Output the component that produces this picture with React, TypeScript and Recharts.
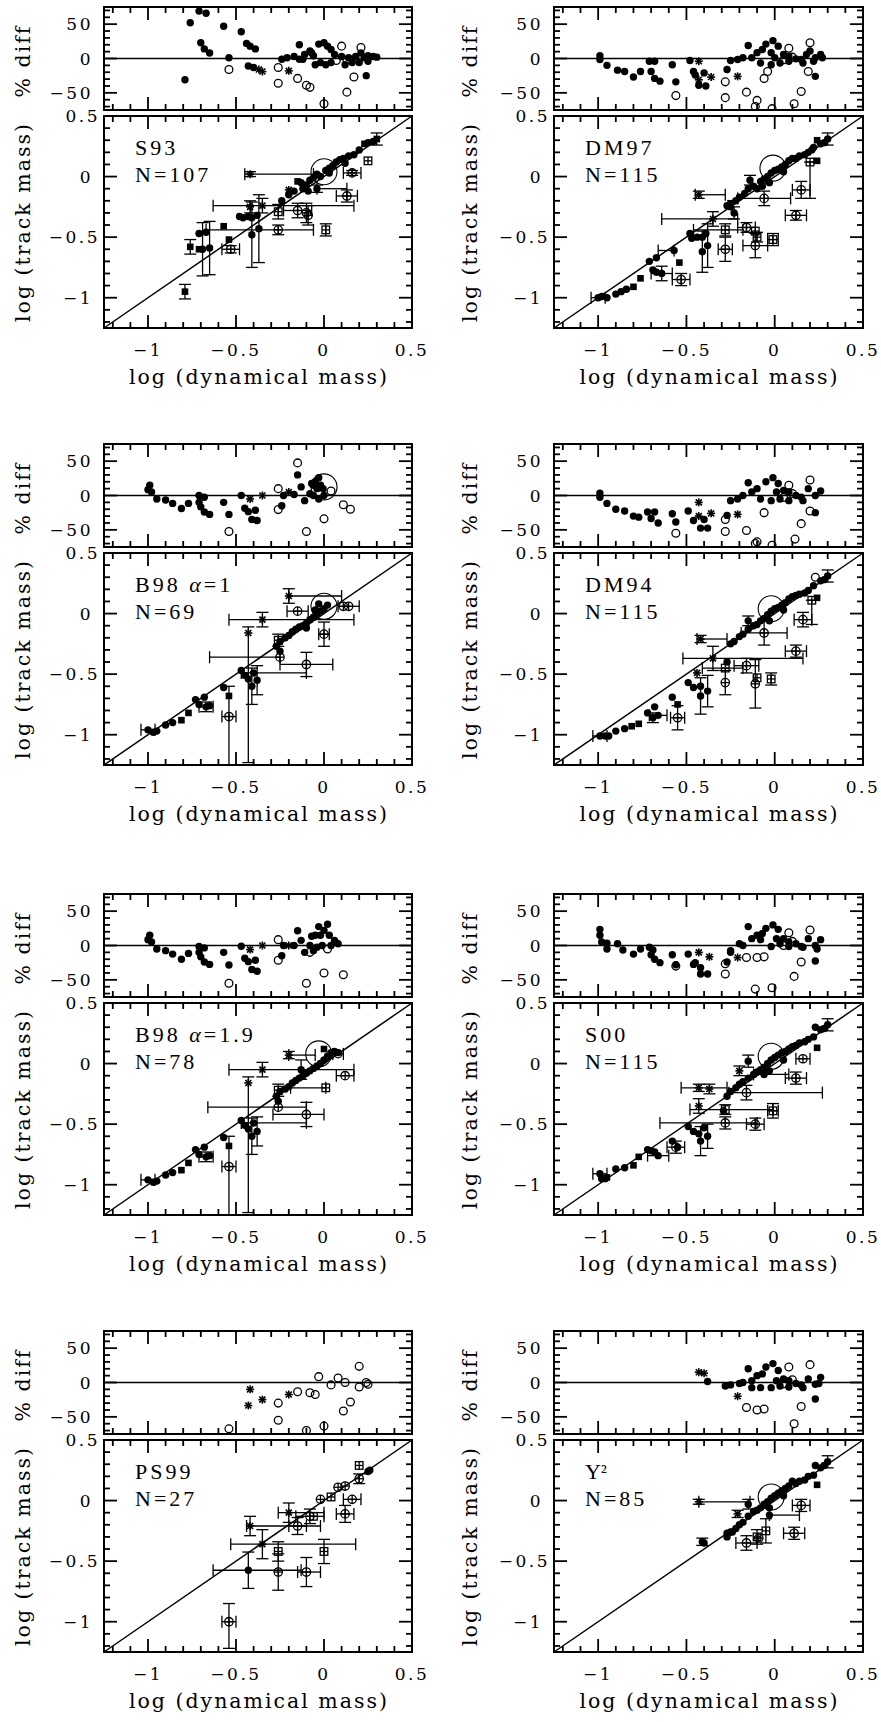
import React from 'react';
import { ScatterChart, Scatter, XAxis, YAxis, ReferenceLine, ReferenceArea, ErrorBar } from 'recharts';

type Err = number | [number, number];
type Pt = [number, number, string, Err?, Err?];

// marker kinds: f filled circle, o open circle, s filled square, a asterisk,
// p open circle with cross, q open square with cross, b big open circle

const s93Res: Pt[] = [
  [-0.79, -31, 'f'], [-0.76, 52, 'f'], [-0.71, 69, 'f'], [-0.67, 66, 'f'], [-0.7, 23, 'f'], [-0.68, 14, 'f'],
  [-0.65, 8, 'f'], [-0.57, 47, 'f'], [-0.54, 1, 'f'], [-0.54, -16, 'o'], [-0.47, 39, 'f'], [-0.44, 22, 'f'],
  [-0.42, 18, 'f'], [-0.39, 14, 'f'], [-0.43, -11, 'f'], [-0.4, -13, 'f'], [-0.37, -16, 'a'], [-0.35, -19, 'a'],
  [-0.26, -13, 'o'], [-0.26, -36, 'o'], [-0.2, -18, 'a'], [-0.15, -29, 'o'], [-0.1, -39, 'o'], [-0.08, -42, 'o'],
  [0.0, -66, 'o'], [-0.14, 20, 'f'], [0.1, 18, 'o'], [0.13, -49, 'o'], [0.17, -27, 'o'], [0.21, 16, 'o'],
  [0.24, -25, 'f'], [-0.24, -1, 'f'], [-0.21, 1, 'f'], [-0.17, 3, 'f'], [-0.14, -1, 'f'], [-0.11, 6, 'f'],
  [-0.08, 11, 'f'], [-0.06, 4, 'f'], [-0.03, 21, 'f'], [0.0, 23, 'f'], [0.02, 18, 'f'], [0.04, 13, 'f'],
  [0.06, 6, 'f'], [0.1, 3, 'f'], [0.14, 1, 'f'], [0.16, -1, 'f'], [0.18, 3, 'f'], [0.21, 8, 'f'], [0.23, 1, 'f'],
  [0.25, 4, 'f'], [0.28, 3, 'f'], [-0.05, -9, 'f'], [-0.02, -6, 'f'], [0.01, -9, 'f'], [0.04, -6, 'f'],
  [0.12, -9, 'f'], [0.16, -6, 'f'], [0.2, -6, 'f'], [0.25, -4, 'f'], [-0.07, 8, 'f'], [-0.12, -1, 'f'],
  [0.07, -3, 'o'], [0.13, -2, 'o'], [0.3, 2, 'f'],
];

const s93Main: Pt[] = [
  [-0.79, -0.95, 's', 0, 0.06], [-0.76, -0.58, 's', 0, 0.06], [-0.71, -0.6, 's'], [-0.69, -0.6, 'f', 0, 0.22],
  [-0.65, -0.59, 'f', 0, 0.22], [-0.71, -0.47, 'f'], [-0.67, -0.46, 'f'], [-0.26, -0.44, 'p', [0.41, 0.2], 0.04],
  [-0.57, -0.41, 's'], [-0.54, -0.52, 's'], [-0.53, -0.6, 'p', 0.05, 0.03], [-0.48, -0.33, 'f'], [-0.46, -0.34, 'f'],
  [-0.43, -0.33, 'f'], [-0.41, -0.34, 'f'], [-0.38, -0.32, 'f'], [-0.42, -0.25, 'a', 0, 0.05],
  [-0.35, -0.24, 'a', [0.28, 0.52], 0.06], [-0.41, -0.48, 'f', 0, 0.27], [-0.37, -0.43, 'f', 0, 0.28],
  [-0.2, -0.11, 'a'], [-0.42, 0.02, 'a', [0.03, 0.36], 0.02], [-0.26, -0.29, 'q', 0, 0.06],
  [-0.15, -0.28, 'p', 0.08, 0.06], [-0.1, -0.3, 'p', 0, 0.08], [-0.09, -0.32, 'p', 0, 0.08],
  [0.01, -0.44, 'q', 0, 0.05], [0.13, -0.16, 'p', 0.06, 0.05], [-0.04, -0.1, 'f', [0, 0.17], 0.03],
  [0.16, 0.03, 'p', 0.05, 0.02], [0.25, 0.13, 'q'], [0.0, 0.04, 'b'], [-0.15, -0.04, 's'],
  [-0.24, -0.2, 'f'], [-0.2, -0.15, 'f'], [-0.17, -0.12, 'f'], [-0.13, -0.05, 'f'], [-0.1, -0.07, 'f'],
  [-0.08, -0.03, 'f'], [-0.06, -0.01, 'f'], [-0.04, 0.02, 'f'], [-0.02, 0.0, 'f'], [0.01, 0.05, 'f'],
  [0.03, 0.07, 'f'], [0.05, 0.09, 'f'], [0.07, 0.12, 'f'], [0.09, 0.14, 'f'], [0.11, 0.15, 'f'],
  [0.14, 0.17, 'f'], [0.17, 0.18, 'f'], [0.2, 0.22, 'f'], [0.23, 0.27, 's'], [0.25, 0.28, 'f'],
  [0.28, 0.29, 'f'], [0.3, 0.31, 's', 0, 0.05], [0.12, 0.11, 'f'], [0.03, 0.03, 'f'], [-0.12, -0.1, 'f'],
  [-0.09, -0.12, 'f'],
];

const dm97Res: Pt[] = [
  [-0.99, 4, 'f'], [-0.99, -1.5, 'f'], [-0.95, -10, 'f'], [-0.89, -17, 'f'], [-0.85, -19, 'f'], [-0.8, -27, 'f'],
  [-0.76, -19, 'f'], [-0.71, -4, 'f'], [-0.68, -4, 'f'], [-0.7, -19, 'f'], [-0.68, -29, 'f'], [-0.65, -33, 'f'],
  [-0.58, -9, 'f'], [-0.56, -34, 'f'], [-0.56, -54, 'o'], [-0.48, -3, 'f'], [-0.43, -4, 'a'], [-0.46, -19, 'f'],
  [-0.45, -24, 'f'], [-0.43, -31, 'a'], [-0.4, -21, 'f'], [-0.36, -27, 'a'], [-0.43, -39, 'f'], [-0.39, -40, 'f'],
  [-0.28, -34, 'o'], [-0.27, -16, 'f'], [-0.28, -57, 'o'], [-0.21, -26, 'a'], [-0.16, -49, 'o'], [-0.11, -70, 'o'],
  [-0.1, -61, 'o'], [-0.015, -73, 'o'], [-0.04, -19, 'o'], [-0.06, -29, 'o'], [0.08, 15, 'o'], [0.11, -66, 'o'],
  [0.15, -48, 'o'], [0.19, -19, 'o'], [0.2, 23, 'o'], [0.23, -26, 'f'], [-0.15, 19, 'f'], [-0.25, -3, 'f'],
  [-0.21, -1.5, 'f'], [-0.18, 1, 'f'], [-0.13, 1, 'f'], [-0.1, 8.5, 'f'], [-0.07, 13, 'f'], [-0.05, 21, 'f'],
  [-0.01, 26, 'f'], [0.02, 18, 'f'], [0.05, 6, 'f'], [0.08, 3.5, 'f'], [0.12, -0.5, 'f'], [0.15, -1.5, 'f'],
  [0.18, 6, 'f'], [0.2, 11, 'f'], [0.23, 1, 'f'], [0.26, 6, 'f'], [0.27, 1, 'f'], [-0.08, -6.5, 'f'],
  [-0.02, -9, 'f'], [0.03, -6.5, 'f'], [0.08, -4, 'f'], [0.16, -6.5, 'f'], [0.22, -4, 'f'], [-0.02, 8.5, 'f'],
  [0.0, 1, 'f'], [0.1, 2, 'o'], [0.05, -2, 'o'],
];

const dm97Main: Pt[] = [
  [-1.0, -1.0, 'f', 0.04, 0], [-0.98, -0.99, 'f'], [-0.95, -1.0, 'f'], [-0.9, -0.97, 'f'], [-0.87, -0.95, 'f'],
  [-0.84, -0.93, 'f'], [-0.8, -0.91, 's'], [-0.76, -0.84, 's'], [-0.71, -0.7, 'f'], [-0.67, -0.67, 'f'],
  [-0.67, -0.79, 'f'], [-0.64, -0.8, 'f', 0.06, 0.06], [-0.69, -0.77, 'f'], [-0.57, -0.61, 'f', [0.09, 0], 0],
  [-0.54, -0.71, 's'], [-0.53, -0.85, 'p', 0.05, 0.05], [-0.48, -0.47, 'f'], [-0.47, -0.51, 'f'],
  [-0.44, -0.5, 'f'], [-0.41, -0.5, 'f'], [-0.39, -0.47, 'f'], [-0.41, -0.62, 'f', 0, 0.17],
  [-0.38, -0.57, 'f', 0, 0.18], [-0.28, -0.44, 'q', [0.18, 0.1], 0.05], [-0.35, -0.35, 'a', [0.29, 0.14], 0.06],
  [-0.28, -0.6, 'p', 0.04, 0.1], [-0.16, -0.42, 'p', 0.05, 0.04], [-0.11, -0.45, 'q'], [-0.1, -0.5, 'q', 0, 0.04],
  [-0.11, -0.57, 'p', 0.07, 0.1], [-0.01, -0.52, 'q', 0.03, 0.05], [-0.43, -0.15, 'a', [0.02, 0.15], 0.03],
  [-0.27, -0.24, 'f'], [-0.25, -0.22, 's'], [-0.23, -0.3, 'f', 0, 0.05], [-0.06, -0.18, 'p', 0.15, 0.06],
  [0.12, -0.32, 'p', 0.06, 0.04], [0.15, -0.11, 'p', 0.05, 0.07], [0.2, 0.12, 'q', 0, [0.3, 0]],
  [0.24, 0.13, 's'], [-0.14, -0.03, 'f', 0, 0.04], [-0.01, 0.07, 'b'], [-0.25, -0.25, 'f'], [-0.22, -0.2, 'f'],
  [-0.2, -0.17, 'f'], [-0.17, -0.14, 'f'], [-0.15, -0.1, 'f'], [-0.12, -0.08, 'f'], [-0.1, -0.1, 'f'],
  [-0.08, -0.04, 'f'], [-0.06, -0.02, 'f'], [-0.04, 0.0, 'f'], [-0.02, 0.03, 'f'], [0.0, 0.05, 'f'],
  [0.02, 0.06, 'f'], [0.04, 0.08, 'f'], [0.06, 0.1, 'f'], [0.08, 0.13, 'f'], [0.1, 0.15, 'f'], [0.12, 0.15, 'f'],
  [0.14, 0.17, 'f'], [0.17, 0.18, 'f'], [0.19, 0.2, 'f'], [0.22, 0.24, 'f'], [0.24, 0.3, 's'], [0.26, 0.27, 'f'],
  [0.28, 0.28, 'f'], [0.3, 0.31, 'f', 0, 0.05], [0.21, 0.22, 'f'], [0.05, 0.04, 'f'], [-0.03, -0.05, 'f'],
  [-0.07, -0.08, 'f'],
];

const b98aRes: Pt[] = [
  [-0.99, 15, 'f'], [-1.0, 8.5, 'f'], [-0.98, 5, 'f'], [-0.95, -5, 'f'], [-0.9, -6.5, 'f'], [-0.86, -11.5, 'f'],
  [-0.81, -19, 'f'], [-0.77, -11.5, 'f'], [-0.71, 0, 'f'], [-0.71, -10, 'f'], [-0.68, -2.5, 'f'], [-0.7, -16.5, 'f'],
  [-0.68, -24, 'f'], [-0.65, -27.5, 'f'], [-0.57, -10, 'f'], [-0.54, -27.5, 'f'], [-0.54, -52.5, 'o'],
  [-0.47, 0, 'f'], [-0.42, -5, 'a'], [-0.35, 0, 'a'], [-0.45, -18.5, 'f'], [-0.43, -23.5, 'f'], [-0.39, -21.5, 'f'],
  [-0.41, -35, 'f'], [-0.38, -36.5, 'f'], [-0.26, 10, 'o'], [-0.26, -20.5, 'o'], [-0.24, -15, 'f'], [-0.23, 0, 'f'],
  [-0.2, 5, 'a'], [-0.17, 1.5, 'f'], [-0.15, 30, 'f'], [-0.15, 47.5, 'o'], [-0.13, 12.5, 'f'], [-0.11, -7.5, 'f'],
  [-0.1, -52.5, 'o'], [-0.08, 2.5, 'f'], [-0.07, 17.5, 'f'], [-0.05, 20, 'f'], [-0.03, 26, 'f'], [-0.02, 15, 'f'],
  [-0.005, 10, 'f'], [0, 0, 'f'], [0.04, 6.5, 'o'], [0.0, -34, 'o'], [0.11, -13.5, 'o'], [0.15, -20, 'o'],
  [0.0, 12.5, 'b'], [-0.04, 10, 'f'], [-0.06, 0, 'f'], [-0.03, -5, 'f'], [-0.06, 15, 'f'],
];

const b98aMain: Pt[] = [
  [-1.0, -0.96, 'f', 0.04, 0], [-0.97, -0.98, 'f'], [-0.95, -0.97, 'f'], [-0.9, -0.92, 'f'], [-0.86, -0.9, 'f'],
  [-0.81, -0.88, 's'], [-0.77, -0.82, 's'], [-0.73, -0.71, 'f'], [-0.71, -0.75, 'f'], [-0.68, -0.69, 'f'],
  [-0.67, -0.77, 'f', 0.04, 0.04], [-0.65, -0.76, 'f'], [-0.57, -0.61, 'f'], [-0.54, -0.68, 's'],
  [-0.54, -0.85, 'p', 0.04, [0.4, 0.25]], [-0.47, -0.47, 'f'], [-0.45, -0.51, 'f'], [-0.43, -0.54, 'f'],
  [-0.41, -0.6, 'f', 0, 0.15], [-0.38, -0.55, 'f', 0, 0.12], [-0.4, -0.49, 'f', [0.07, 0.3], 0],
  [-0.43, -0.16, 'a', 0, [1.07, 0.05]], [-0.35, -0.05, 'a', [0.19, 0.52], 0.06], [-0.2, 0.145, 'a', [0, 0.3], 0.06],
  [-0.15, 0.02, 'p', 0.06, 0], [-0.26, -0.22, 'q', 0, 0.05], [-0.25, -0.36, 'p', [0.4, 0], 0],
  [-0.1, -0.42, 'p', 0.15, 0.1], [0.0, -0.17, 'p', 0.03, 0.1], [0.11, 0.06, 'p'], [0.14, 0.06, 'p', 0.06, 0],
  [-0.03, 0.08, 'f'], [0.0, 0.06, 'b'], [-0.27, -0.27, 'f'], [-0.25, -0.23, 'f'], [-0.22, -0.2, 'f'],
  [-0.2, -0.18, 'f'], [-0.18, -0.15, 'f'], [-0.16, -0.13, 'f'], [-0.14, -0.11, 'f'], [-0.12, -0.1, 'f'],
  [-0.1, -0.08, 'f'], [-0.08, -0.05, 'f'], [-0.06, -0.03, 'f'], [-0.04, 0.0, 'f'], [-0.02, 0.02, 'f'],
  [0.0, 0.04, 'f'], [0.02, 0.07, 'f'], [-0.05, 0.03, 'f'], [-0.1, -0.12, 'f'], [-0.25, -0.31, 'f'],
];

const dm94Res: Pt[] = [
  [-0.99, 3.5, 'f'], [-0.99, -2.5, 'f'], [-0.95, -11.5, 'f'], [-0.9, -20, 'f'], [-0.85, -22.5, 'f'], [-0.8, -30, 'f'],
  [-0.77, -31.5, 'f'], [-0.72, -24, 'f'], [-0.68, -24, 'f'], [-0.7, -33.5, 'f'], [-0.66, -40, 'f'],
  [-0.58, -26.5, 'f'], [-0.56, -38.5, 'f'], [-0.56, -55, 'o'], [-0.49, -22.5, 'f'], [-0.43, -10, 'a'],
  [-0.46, -36.5, 'f'], [-0.43, -30, 'a'], [-0.4, -35, 'f'], [-0.36, -26, 'a'], [-0.42, -47.5, 'f'],
  [-0.38, -47.5, 'f'], [-0.28, -35, 'o'], [-0.28, -52.5, 'o'], [-0.27, -29, 'f'], [-0.21, -27.5, 'a'],
  [-0.16, -51, 'o'], [-0.11, -70, 'o'], [-0.1, -67.5, 'o'], [-0.015, -72.5, 'o'], [-0.06, -25, 'o'],
  [0.08, 15, 'o'], [0.115, -63.5, 'o'], [0.15, -41, 'o'], [0.2, -22.5, 'o'], [0.2, 22.5, 'o'], [0.23, -25, 'f'],
  [-0.15, 18.5, 'f'], [-0.25, -7.5, 'f'], [-0.21, -5, 'f'], [-0.18, 0, 'f'], [-0.13, 5, 'f'], [-0.1, 10, 'f'],
  [-0.05, 20, 'f'], [-0.01, 26, 'f'], [0.02, 17.5, 'f'], [0.05, 7.5, 'f'], [0.08, 5, 'f'], [0.12, 0, 'f'],
  [0.15, -2.5, 'f'], [0.19, 10, 'f'], [0.23, 0, 'f'], [0.26, 6.5, 'f'], [-0.02, -7.5, 'f'], [0.03, -5, 'f'],
  [0.08, -7.5, 'f'], [0.16, -7.5, 'f'], [-0.08, -5, 'f'], [0.01, 5, 'f'], [0.1, 3, 'o'], [0.05, -3, 'o'],
];

const dm94Main: Pt[] = [
  [-0.99, -1.01, 'f', 0.04, 0], [-0.96, -1.01, 'f'], [-0.94, -1.01, 'f'], [-0.9, -0.97, 'f'], [-0.85, -0.95, 'f'],
  [-0.81, -0.93, 's'], [-0.77, -0.91, 's'], [-0.72, -0.82, 'f'], [-0.68, -0.77, 'f'], [-0.69, -0.86, 'f', 0, 0.04],
  [-0.66, -0.84, 'f', 0.05, 0], [-0.58, -0.69, 'f'], [-0.55, -0.75, 's'], [-0.55, -0.86, 'p', 0.04, 0.1],
  [-0.49, -0.57, 'f'], [-0.46, -0.61, 'f'], [-0.42, -0.6, 'f'], [-0.42, -0.68, 'f', 0, 0.15],
  [-0.38, -0.64, 'f', 0, 0.13], [-0.44, -0.49, 'a'], [-0.42, -0.21, 'a', [0.02, 0.15], 0.03],
  [-0.35, -0.37, 'a', [0.17, 0.51], 0.1], [-0.28, -0.45, 'q', [0.13, 0.1], 0], [-0.28, -0.57, 'p', 0, 0.1],
  [-0.27, -0.4, 'f'], [-0.16, -0.43, 'p', 0.07, 0.06], [-0.1, -0.53, 'q'], [-0.11, -0.58, 'p', 0, 0.2],
  [-0.02, -0.54, 'q', 0, 0.05], [-0.06, -0.16, 'p', 0.13, 0.1], [0.12, -0.31, 'p', 0.06, 0.05],
  [0.16, -0.05, 'p', 0.05, 0.06], [0.21, 0.11, 'q', 0, [0.2, 0]], [0.24, 0.13, 's'], [-0.15, -0.06, 'f', 0, 0.04],
  [-0.02, 0.04, 'b'], [-0.25, -0.25, 'f'], [-0.23, -0.23, 'f'], [-0.2, -0.19, 'f'], [-0.18, -0.17, 'f'],
  [-0.15, -0.13, 'f'], [-0.12, -0.1, 'f'], [-0.1, -0.09, 'f'], [-0.08, -0.06, 'f'], [-0.06, -0.04, 'f'],
  [-0.04, -0.01, 'f'], [-0.02, 0.02, 'f'], [0.0, 0.04, 'f'], [0.02, 0.05, 'f'], [0.04, 0.07, 'f'],
  [0.06, 0.09, 'f'], [0.08, 0.12, 'f'], [0.1, 0.14, 'f'], [0.12, 0.15, 'f'], [0.14, 0.16, 'f'], [0.17, 0.17, 'f'],
  [0.19, 0.19, 'f'], [0.22, 0.23, 'f'], [0.23, 0.3, 'o'], [0.26, 0.27, 'f'], [0.28, 0.28, 'f'],
  [0.3, 0.31, 'f', 0, 0.05], [0.05, 0.03, 'f'], [-0.03, -0.06, 'f'],
];

const b98bRes: Pt[] = [
  [-0.99, 15, 'f'], [-1.0, 8.5, 'f'], [-0.98, 5, 'f'], [-0.95, -5, 'f'], [-0.9, -7.5, 'f'], [-0.86, -12.5, 'f'],
  [-0.81, -20, 'f'], [-0.77, -11.5, 'f'], [-0.71, -1.5, 'f'], [-0.71, -10, 'f'], [-0.68, -3.5, 'f'],
  [-0.7, -16.5, 'f'], [-0.68, -24, 'f'], [-0.65, -27.5, 'f'], [-0.57, -10, 'f'], [-0.54, -28.5, 'f'],
  [-0.54, -55, 'o'], [-0.47, -1, 'f'], [-0.42, -6, 'a'], [-0.35, 0, 'a'], [-0.45, -18.5, 'f'], [-0.43, -23.5, 'f'],
  [-0.39, -21.5, 'f'], [-0.41, -35, 'f'], [-0.38, -37.5, 'f'], [-0.26, 8.5, 'o'], [-0.26, -21.5, 'o'],
  [-0.24, -15, 'f'], [-0.23, 0, 'f'], [-0.2, 0, 'a'], [-0.17, 0, 'f'], [-0.15, 21.5, 'f'], [-0.13, 7.5, 'f'],
  [-0.11, -10, 'f'], [-0.1, -55, 'o'], [-0.08, 0, 'f'], [-0.07, 13.5, 'f'], [-0.05, 15, 'f'], [-0.03, 27.5, 'f'],
  [-0.02, 15, 'f'], [0.02, 31, 'f'], [0.03, 15, 'f'], [0.06, 7.5, 'f'], [0.08, 2.5, 'f'], [0.0, -40, 'o'],
  [0.11, -42.5, 'o'], [-0.06, -7.5, 'f'], [-0.04, -2.5, 'f'], [0.04, 0, 'f'], [-0.01, 0, 'f'], [0.02, -5, 'o'],
  [-0.08, -10, 'o'], [0.0, 22, 'f'],
];

const b98bMain: Pt[] = [
  [-1.0, -0.96, 'f', 0.04, 0], [-0.97, -0.98, 'f'], [-0.95, -0.97, 'f'], [-0.9, -0.92, 'f'], [-0.86, -0.9, 'f'],
  [-0.81, -0.88, 's'], [-0.77, -0.82, 's'], [-0.73, -0.71, 'f'], [-0.71, -0.75, 'f'], [-0.68, -0.69, 'f'],
  [-0.67, -0.77, 'f', 0.04, 0.04], [-0.65, -0.76, 'f'], [-0.57, -0.61, 'f'], [-0.54, -0.68, 's'],
  [-0.54, -0.85, 'p', 0.04, [0.4, 0.25]], [-0.47, -0.47, 'f'], [-0.45, -0.51, 'f'], [-0.43, -0.54, 'f'],
  [-0.41, -0.6, 'f', 0, 0.15], [-0.38, -0.56, 'f', 0, 0.12], [-0.4, -0.49, 'f', [0.07, 0.3], 0],
  [-0.43, -0.16, 'a', 0, [1.07, 0.05]], [-0.35, -0.05, 'a', [0.19, 0.52], 0.06], [-0.2, 0.07, 'a', [0, 0.15], 0.03],
  [-0.26, -0.22, 'q', 0, 0.05], [-0.26, -0.36, 'p', [0.4, 0.16], 0], [-0.1, -0.42, 'p', [0.19, 0.1], 0.1],
  [0.01, -0.2, 'q', [0.2, 0], 0], [0.12, -0.1, 'p', 0.05, 0], [0.08, 0.08, 'o', 0.03, 0], [-0.03, 0.08, 'b'],
  [0.0, 0.12, 's'], [-0.13, -0.05, 'f', 0, 0.08], [-0.27, -0.27, 'f'], [-0.25, -0.23, 'f'], [-0.22, -0.21, 'f'],
  [-0.2, -0.19, 'f'], [-0.18, -0.16, 'f'], [-0.16, -0.14, 'f'], [-0.14, -0.12, 'f'], [-0.12, -0.1, 'f'],
  [-0.1, -0.08, 'f'], [-0.08, -0.06, 'f'], [-0.06, -0.04, 'f'], [-0.04, -0.02, 'f'], [-0.02, 0.0, 'f'],
  [0.0, 0.03, 'f'], [0.02, 0.06, 'f'], [0.04, 0.09, 'f'], [0.06, 0.1, 'f'], [0.08, 0.09, 'f'], [-0.26, -0.31, 'f'],
];

const s00Res: Pt[] = [
  [-0.99, 23.5, 'f'], [-0.99, 15, 'f'], [-0.98, 5, 'f'], [-0.95, 3.5, 'f'], [-0.95, -5, 'f'], [-0.89, 2.5, 'f'],
  [-0.86, -6.5, 'f'], [-0.8, -12.5, 'f'], [-0.76, -5, 'f'], [-0.71, -2.5, 'f'], [-0.69, -6.5, 'f'],
  [-0.7, -13.5, 'f'], [-0.68, -20, 'f'], [-0.65, -25, 'f'], [-0.58, -13.5, 'f'], [-0.56, -30, 'o'],
  [-0.56, -28, 'f'], [-0.49, -12.5, 'f'], [-0.43, -10, 'a'], [-0.46, -27.5, 'f'], [-0.45, -25, 'f'],
  [-0.42, -32.5, 'f'], [-0.37, -16.5, 'a'], [-0.42, -41.5, 'f'], [-0.38, -41.5, 'f'], [-0.28, -26.5, 'o'],
  [-0.28, -41.5, 'o'], [-0.27, -24, 'f'], [-0.25, -10, 'f'], [-0.21, -17.5, 'a'], [-0.16, -17.5, 'o'],
  [-0.11, -63.5, 'o'], [-0.1, -17.5, 'o'], [-0.06, -16.5, 'o'], [-0.015, -61.5, 'o'], [0.08, 18.5, 'o'],
  [0.11, -45, 'o'], [0.15, -24, 'o'], [0.2, 22.5, 'o'], [0.23, -22.5, 'f'], [-0.15, 27.5, 'f'], [-0.25, -7.5, 'f'],
  [-0.2, 2.5, 'f'], [-0.18, 0, 'f'], [-0.13, 10, 'f'], [-0.1, 15, 'f'], [-0.07, 17.5, 'f'], [-0.05, 25, 'f'],
  [-0.01, 30, 'f'], [0.02, 23.5, 'f'], [0.05, 10, 'f'], [0.08, 5, 'f'], [0.12, 2.5, 'f'], [0.15, -1.5, 'f'],
  [0.19, 10, 'f'], [0.23, 0, 'f'], [0.26, 8.5, 'f'], [-0.02, -1.5, 'f'], [0.03, 2.5, 'f'], [0.08, -1.5, 'f'],
  [0.16, -2.5, 'f'], [-0.08, 8.5, 'f'], [0.01, 10, 'f'], [0.24, -5, 'f'], [0.1, 6, 'o'], [0.05, 0, 'o'],
];

const s00Main: Pt[] = [
  [-0.99, -0.91, 'f', 0.04, 0], [-0.98, -0.95, 'f'], [-0.96, -0.95, 'f'], [-0.95, -0.94, 's'], [-0.9, -0.87, 'f'],
  [-0.85, -0.86, 'f'], [-0.8, -0.84, 's'], [-0.77, -0.77, 's'], [-0.72, -0.71, 'f'], [-0.68, -0.73, 'f'],
  [-0.66, -0.76, 'f', 0.06, 0], [-0.7, -0.72, 'f'], [-0.58, -0.64, 'f'], [-0.56, -0.69, 'p', 0.05, 0.05],
  [-0.55, -0.69, 'f'], [-0.49, -0.52, 'f'], [-0.46, -0.56, 'f'], [-0.43, -0.58, 'f'], [-0.42, -0.64, 'f', 0, 0.12],
  [-0.38, -0.6, 'f', 0, 0.1], [-0.4, -0.53, 'f'], [-0.43, -0.2, 'a', [0.1, 0.16], 0.03],
  [-0.37, -0.21, 'a', 0, 0.04], [-0.43, -0.35, 'a', 0, 0.06], [-0.28, -0.49, 'p', [0.37, 0.18], 0.05],
  [-0.28, -0.38, 'q', [0.2, 0.27], 0.04], [-0.29, -0.39, 'f'], [-0.11, -0.5, 'p', 0.05, 0.05],
  [-0.01, -0.39, 'q', 0.03, 0.06], [-0.16, -0.24, 'p', [0.1, 0.43], 0.06], [0.12, -0.12, 'p', 0.06, 0.05],
  [0.16, 0.04, 'p', 0.04, 0], [-0.06, -0.09, 'f', [0.06, 0.14], 0], [0.24, 0.13, 's'], [-0.15, 0.02, 'f', 0, 0.05],
  [-0.2, -0.06, 'a', 0, 0.04], [-0.02, 0.06, 'b'], [-0.25, -0.23, 'f'], [-0.22, -0.2, 'f'], [-0.2, -0.17, 'f'],
  [-0.18, -0.15, 'f'], [-0.15, -0.12, 'f'], [-0.12, -0.09, 'f'], [-0.1, -0.07, 'f'], [-0.08, -0.05, 'f'],
  [-0.06, -0.03, 'f'], [-0.04, 0.0, 'f'], [-0.02, 0.03, 'f'], [0.0, 0.05, 'f'], [0.02, 0.07, 'f'],
  [0.04, 0.09, 'f'], [0.06, 0.1, 'f'], [0.08, 0.12, 'f'], [0.1, 0.14, 'f'], [0.12, 0.15, 'f'], [0.14, 0.17, 'f'],
  [0.17, 0.18, 'f'], [0.19, 0.2, 'f'], [0.22, 0.22, 'f'], [0.23, 0.3, 'f'], [0.26, 0.28, 'f'], [0.28, 0.29, 'f'],
  [0.3, 0.32, 'f', 0, 0.05], [0.05, 0.03, 'f'], [-0.03, -0.06, 'f'], [-0.27, -0.27, 'f'],
];

const ps99Res: Pt[] = [
  [-0.42, -10, 'a'], [-0.43, -33.5, 'a'], [-0.35, -25, 'a'], [-0.26, -30, 'o'], [-0.26, -55, 'o'], [-0.2, -17.5, 'a'],
  [-0.15, -13.5, 'o'], [-0.08, -15, 'o'], [-0.05, -17.5, 'o'], [-0.03, 8.5, 'o'], [0.04, -3.5, 'o'], [0.08, 6.5, 'o'],
  [0.12, 0, 'o'], [0.11, -41.5, 'o'], [0.15, -28.5, 'o'], [0.2, 23.5, 'o'], [0.2, -6.5, 'o'], [0.24, 0, 'o'],
  [0.25, -2.5, 'o'], [-0.54, -67.5, 'o'], [-0.1, -70, 'o'], [0.0, -63.5, 'o'],
];

const ps99Main: Pt[] = [
  [-0.54, -1.0, 'p', 0.04, [0.22, 0.15]], [-0.43, -0.575, 'f', [0.2, 0.3], 0.15], [-0.1, -0.59, 'p', [0.05, 0.08], 0.12],
  [-0.26, -0.59, 'p', 0, 0.15], [-0.35, -0.36, 'a', [0.18, 0.53], 0.12], [-0.26, -0.42, 'q', 0, 0.08],
  [0.0, -0.42, 'q', 0, 0.1], [-0.42, -0.21, 'a', [0.02, 0.4], 0.08], [-0.15, -0.21, 'p', 0.05, 0.07],
  [-0.2, -0.1, 'a', [0.06, 0.2], 0.08], [-0.08, -0.13, 'p', 0.08, 0.06], [-0.06, -0.13, 'q'],
  [0.12, -0.11, 'p', 0.05, 0.07], [0.16, 0.01, 'p', 0.05, 0], [-0.02, 0.01, 'p'], [0.04, 0.03, 'q'],
  [0.08, 0.11, 'p'], [0.12, 0.12, 'p'], [0.2, 0.18, 'p', 0, 0.04], [0.2, 0.29, 'q'], [0.26, 0.25, 'f'],
  [0.25, 0.24, 'f'],
];

const y2Res: Pt[] = [
  [-0.43, 15, 'a'], [-0.4, 13.5, 'a'], [-0.38, 1.5, 'f'], [-0.28, -5, 'f'], [-0.21, -20, 'a'], [-0.16, -36.5, 'o'],
  [-0.1, -40, 'o'], [-0.06, -38.5, 'o'], [0.08, 22.5, 'o'], [0.11, -60, 'o'], [0.15, -35, 'o'], [0.2, 26, 'o'],
  [0.23, -24, 'f'], [-0.15, 20, 'f'], [-0.25, -3.5, 'f'], [-0.2, -1.5, 'f'], [-0.18, 0, 'f'], [-0.13, 2.5, 'f'],
  [-0.1, 10, 'f'], [-0.07, 12.5, 'f'], [-0.05, 22.5, 'f'], [-0.01, 27.5, 'f'], [0.02, 17.5, 'f'], [0.05, 5, 'f'],
  [0.08, 2.5, 'f'], [0.12, -1.5, 'f'], [0.15, -3.5, 'f'], [0.19, 5, 'f'], [0.23, -2.5, 'f'], [0.26, 7.5, 'f'],
  [-0.02, -7.5, 'f'], [0.03, -5, 'f'], [0.08, -6.5, 'f'], [0.16, -7.5, 'f'], [-0.08, -7.5, 'f'], [0.01, 2.5, 'f'],
  [-0.13, -7.5, 'f'], [0.25, -1.5, 'f'], [0.1, 4, 'o'], [0.05, -2, 'o'],
];

const y2Main: Pt[] = [
  [-0.43, -0.01, 'a', [0, 0.29], 0.02], [-0.4, -0.35, 'f'], [-0.41, -0.34, 'f', 0, 0.03], [-0.27, -0.27, 'f'],
  [-0.24, -0.26, 'f'], [-0.21, -0.11, 'a', 0, 0.03], [-0.16, -0.35, 'p', 0.06, 0.06], [-0.1, -0.3, 'q', 0, 0.06],
  [-0.09, -0.31, 'p'], [-0.05, -0.25, 'q', 0, 0.1], [0.11, -0.27, 'p', 0.06, 0.05], [0.15, -0.04, 'p', 0.05, 0.05],
  [-0.03, -0.12, 'f', [0, 0.17], 0], [-0.15, -0.03, 'f', 0, 0.04], [0.24, 0.13, 's'], [-0.02, 0.03, 'b'],
  [-0.27, -0.3, 'f'], [-0.25, -0.26, 'f'], [-0.22, -0.23, 'f'], [-0.2, -0.2, 'f'], [-0.18, -0.18, 'f'],
  [-0.15, -0.13, 'f'], [-0.12, -0.09, 'f'], [-0.1, -0.08, 'f'], [-0.08, -0.06, 'f'], [-0.06, -0.03, 'f'],
  [-0.04, -0.01, 'f'], [-0.02, 0.02, 'f'], [0.0, 0.04, 'f'], [0.02, 0.06, 'f'], [0.04, 0.08, 'f'],
  [0.06, 0.1, 'f'], [0.08, 0.12, 'f'], [0.1, 0.16, 'f'], [0.12, 0.14, 'f'], [0.14, 0.16, 'f'], [0.17, 0.17, 'f'],
  [0.19, 0.2, 'f'], [0.22, 0.21, 'f'], [0.23, 0.29, 'f'], [0.26, 0.27, 'f'], [0.28, 0.29, 'f'],
  [0.3, 0.32, 'f', 0, 0.05], [0.05, 0.04, 'f'], [-0.03, -0.06, 'f'],
];

const panelNames = ['S93', 'DM97', 'B98 α=1', 'DM94', 'B98 α=1.9', 'S00', 'PS99', 'Y²'];
const panelCounts = [107, 115, 69, 115, 78, 115, 27, 85];
const resSets = [s93Res, dm97Res, b98aRes, dm94Res, b98bRes, s00Res, ps99Res, y2Res];
const mainSets = [s93Main, dm97Main, b98aMain, dm94Main, b98bMain, s00Main, ps99Main, y2Main];

const massTicks = [-1.2, -1.1, -1, -0.9, -0.8, -0.7, -0.6, -0.5, -0.4, -0.3, -0.2, -0.1, 0, 0.1, 0.2, 0.3, 0.4, 0.5];
const diffTicks = [-70, -60, -50, -40, -30, -20, -10, 0, 10, 20, 30, 40, 50, 60, 70];

const ink = '#000';
const COL_LEFT = [0, 450];
const PLOT_W = [308, 309];
const ROW_TOP = [7, 444, 894, 1331];
const AXIS_W = 104;
const RES_H = 103;
const MAIN_OFF = 109;
const MAIN_H = 212;
const RIGHT_PAD = 28;
const MASS_LO = -1.25;
const MASS_HI = 0.5;
const DIFF_LO = -75;
const DIFF_HI = 75;
const TICK_MAJOR = 13; // px
const TICK_MINOR = 6;
const OVER_TOP = 10; // overlay svg starts this far above the residual frame

const tickFont: React.CSSProperties = {
  fontFamily: 'DejaVu Serif', fontSize: 17, letterSpacing: 2.5, fill: ink,
};
const titleFont: React.CSSProperties = {
  fontFamily: 'DejaVu Serif', fontSize: 20.5, letterSpacing: 2, fill: ink,
};
const noteFont: React.CSSProperties = {
  fontFamily: 'Liberation Serif', fontSize: 22, letterSpacing: 3, fill: ink,
};

function fmt(v: number) {
  const r = Math.round(v * 10) / 10;
  return (r < 0 ? '\u2212' : '') + String(Math.abs(r));
}

function isMajor(v: number, step: number) {
  return Math.abs(v / step - Math.round(v / step)) < 1e-6;
}

function toRows(pts: Pt[]) {
  return pts.map(([x, y, k, ex, ey]) => ({ x, y, k, ex: ex ? ex : undefined, ey: ey ? ey : undefined }));
}

// inward tick marks on the four sides of a frame (same linear mapping as the chart's axes)
function FrameTicks({ x0, y0, w, h, yTicks, yStep, yLo, yHi }: {
  x0: number; y0: number; w: number; h: number; yTicks: number[]; yStep: number; yLo: number; yHi: number;
}) {
  const lines: React.ReactNode[] = [];
  massTicks.forEach((v, i) => {
    const px = x0 + ((v - MASS_LO) / (MASS_HI - MASS_LO)) * w;
    const len = isMajor(v, 0.5) ? TICK_MAJOR : TICK_MINOR;
    lines.push(<line key={`b${i}`} x1={px} x2={px} y1={y0 + h} y2={y0 + h - len} stroke={ink} strokeWidth={1.8} />);
    lines.push(<line key={`t${i}`} x1={px} x2={px} y1={y0} y2={y0 + len} stroke={ink} strokeWidth={1.8} />);
  });
  yTicks.forEach((v, i) => {
    const py = y0 + ((yHi - v) / (yHi - yLo)) * h;
    const len = isMajor(v, yStep) ? TICK_MAJOR : TICK_MINOR;
    lines.push(<line key={`l${i}`} x1={x0} x2={x0 + len} y1={py} y2={py} stroke={ink} strokeWidth={1.8} />);
    lines.push(<line key={`r${i}`} x1={x0 + w} x2={x0 + w - len} y1={py} y2={py} stroke={ink} strokeWidth={1.8} />);
  });
  return <g>{lines}</g>;
}

function Marker(props: any) {
  const { cx, cy, payload } = props;
  if (!Number.isFinite(cx) || !Number.isFinite(cy)) return <g />;
  const sw = 1.3;
  switch (payload.k) {
    case 'f':
      return <circle cx={cx} cy={cy} r={3.7} fill={ink} />;
    case 'o':
      return <circle cx={cx} cy={cy} r={3.9} fill="none" stroke={ink} strokeWidth={sw} />;
    case 's':
      return <rect x={cx - 3.3} y={cy - 3.3} width={6.6} height={6.6} fill={ink} />;
    case 'a':
      return (
        <g stroke={ink} strokeWidth={1.6}>
          <line x1={cx - 4} y1={cy} x2={cx + 4} y2={cy} />
          <line x1={cx} y1={cy - 4} x2={cx} y2={cy + 4} />
          <line x1={cx - 3} y1={cy - 3} x2={cx + 3} y2={cy + 3} />
          <line x1={cx - 3} y1={cy + 3} x2={cx + 3} y2={cy - 3} />
        </g>
      );
    case 'p':
      return (
        <g stroke={ink} strokeWidth={sw} fill="none">
          <circle cx={cx} cy={cy} r={4.2} />
          <line x1={cx - 4.2} y1={cy} x2={cx + 4.2} y2={cy} />
          <line x1={cx} y1={cy - 4.2} x2={cx} y2={cy + 4.2} />
        </g>
      );
    case 'q':
      return (
        <g stroke={ink} strokeWidth={sw} fill="none">
          <rect x={cx - 3.8} y={cy - 3.8} width={7.6} height={7.6} />
          <line x1={cx - 3.8} y1={cy} x2={cx + 3.8} y2={cy} />
          <line x1={cx} y1={cy - 3.8} x2={cx} y2={cy + 3.8} />
        </g>
      );
    case 'b':
      return <circle cx={cx} cy={cy} r={13} fill="none" stroke={ink} strokeWidth={1.1} />;
    default:
      return <g />;
  }
}

function xLabel(p: any) {
  const v = p.payload.value;
  if (!isMajor(v, 0.5)) return <g />;
  return <text x={p.x} y={p.y + 28} textAnchor="middle" style={tickFont}>{fmt(v)}</text>;
}

function yLabel(p: any, step: number) {
  const v = p.payload.value;
  if (!isMajor(v, step)) return <g />;
  const s = fmt(v);
  const isInt = s.indexOf('.') < 0;
  return <text x={p.x - (isInt ? 11 : 4)} y={p.y + 6} textAnchor="end" style={tickFont}>{s}</text>;
}

function PanelLabel({ name, x, y }: { name: string; x: number; y: number }) {
  const i = name.indexOf('α');
  if (name.endsWith('²')) {
    return (
      <text x={x} y={y} style={noteFont}>
        {name.slice(0, -1)}
        <tspan dx={-3} dy={-1} fontSize={19} style={{ letterSpacing: 0 }}>²</tspan>
      </text>
    );
  }
  if (i < 0) return <text x={x} y={y} style={noteFont}>{name}</text>;
  return (
    <text x={x} y={y} style={noteFont}>
      {name.slice(0, i)}
      <tspan fontStyle="italic">α</tspan>
      {name.slice(i + 1)}
    </text>
  );
}

function Panel({ idx }: { idx: number }) {
  const col = idx % 2;
  const row = Math.floor(idx / 2);
  const left = COL_LEFT[col];
  const plotW = PLOT_W[col];
  const top = ROW_TOP[row];
  const chartW = AXIS_W + plotW + RIGHT_PAD;
  const resPad = 8;
  const mainPadTop = 12;
  const xAxisH = 30;
  const mainPadBottom = 6;
  const resRows = toRows(resSets[idx]);
  const mainRows = toRows(mainSets[idx]);
  const labelX = col === 0 ? 23 : 20;
  const mainTopLocal = OVER_TOP + MAIN_OFF;

  return (
    <>
      <div style={{ position: 'absolute', left, top: top - resPad }}>
        <ScatterChart width={chartW} height={resPad * 2 + RES_H}
          margin={{ top: resPad, right: RIGHT_PAD, bottom: resPad, left: 0 }}>
          <XAxis type="number" dataKey="x" domain={[MASS_LO, MASS_HI]} allowDataOverflow ticks={massTicks} hide />
          <YAxis type="number" dataKey="y" domain={[DIFF_LO, DIFF_HI]} allowDataOverflow ticks={diffTicks} interval={0}
            width={AXIS_W} tickSize={0} tickMargin={0} tickLine={false} axisLine={false}
            tick={(p: any) => yLabel(p, 50)} />
          <ReferenceArea x1={MASS_LO} x2={MASS_HI} y1={DIFF_LO} y2={DIFF_HI} fill="none" stroke={ink} strokeWidth={2} />
          <ReferenceLine y={0} stroke={ink} strokeWidth={1.5} />
          <Scatter data={resRows} shape={Marker} isAnimationActive={false} />
        </ScatterChart>
      </div>
      <div style={{ position: 'absolute', left, top: top + MAIN_OFF - mainPadTop }}>
        <ScatterChart width={chartW} height={mainPadTop + MAIN_H + xAxisH + mainPadBottom}
          margin={{ top: mainPadTop, right: RIGHT_PAD, bottom: mainPadBottom, left: 0 }}>
          <XAxis type="number" dataKey="x" domain={[MASS_LO, MASS_HI]} allowDataOverflow ticks={massTicks} interval={0}
            height={xAxisH} tickSize={0} tickMargin={0} tickLine={false} axisLine={false} tick={xLabel} />
          <YAxis type="number" dataKey="y" domain={[MASS_LO, MASS_HI]} allowDataOverflow ticks={massTicks} interval={0}
            width={AXIS_W} tickSize={0} tickMargin={0} tickLine={false} axisLine={false}
            tick={(p: any) => yLabel(p, 0.5)} />
          <ReferenceArea x1={MASS_LO} x2={MASS_HI} y1={MASS_LO} y2={MASS_HI} fill="none" stroke={ink} strokeWidth={2} />
          <ReferenceLine segment={[{ x: MASS_LO, y: MASS_LO }, { x: MASS_HI, y: MASS_HI }]} stroke={ink} strokeWidth={1.5} />
          <Scatter data={mainRows} shape={Marker} isAnimationActive={false}>
            <ErrorBar dataKey="ex" direction="x" width={6} stroke={ink} strokeWidth={1.3} />
            <ErrorBar dataKey="ey" direction="y" width={6} stroke={ink} strokeWidth={1.3} />
          </Scatter>
        </ScatterChart>
      </div>
      <svg width={440} height={430} style={{ position: 'absolute', left, top: top - OVER_TOP, pointerEvents: 'none' }}>
        <FrameTicks x0={AXIS_W} y0={OVER_TOP} w={plotW} h={RES_H} yTicks={diffTicks} yStep={50} yLo={DIFF_LO} yHi={DIFF_HI} />
        <FrameTicks x0={AXIS_W} y0={mainTopLocal} w={plotW} h={MAIN_H} yTicks={massTicks} yStep={0.5} yLo={MASS_LO} yHi={MASS_HI} />
        <text transform={`translate(${labelX},${OVER_TOP + 54}) rotate(-90)`} textAnchor="middle"
          dominantBaseline="central" style={titleFont}>% diff</text>
        <text transform={`translate(${labelX},${mainTopLocal + MAIN_H / 2}) rotate(-90)`} textAnchor="middle"
          dominantBaseline="central" style={titleFont}>log (track mass)</text>
        <text x={AXIS_W + plotW / 2 + 1} y={mainTopLocal + MAIN_H + 56} textAnchor="middle" style={titleFont}>
          log (dynamical mass)
        </text>
        <PanelLabel name={panelNames[idx]} x={AXIS_W + 31} y={mainTopLocal + 39} />
        <text x={AXIS_W + 31} y={mainTopLocal + 66} style={noteFont}>{`N=${panelCounts[idx]}`}</text>
      </svg>
    </>
  );
}

export default function App() {
  return (
    <div style={{ position: 'absolute', left: 0, top: 0, width: 881, height: 1722, background: '#fff', overflow: 'hidden' }}>
      {panelNames.map((_, i) => <Panel key={i} idx={i} />)}
    </div>
  );
}
